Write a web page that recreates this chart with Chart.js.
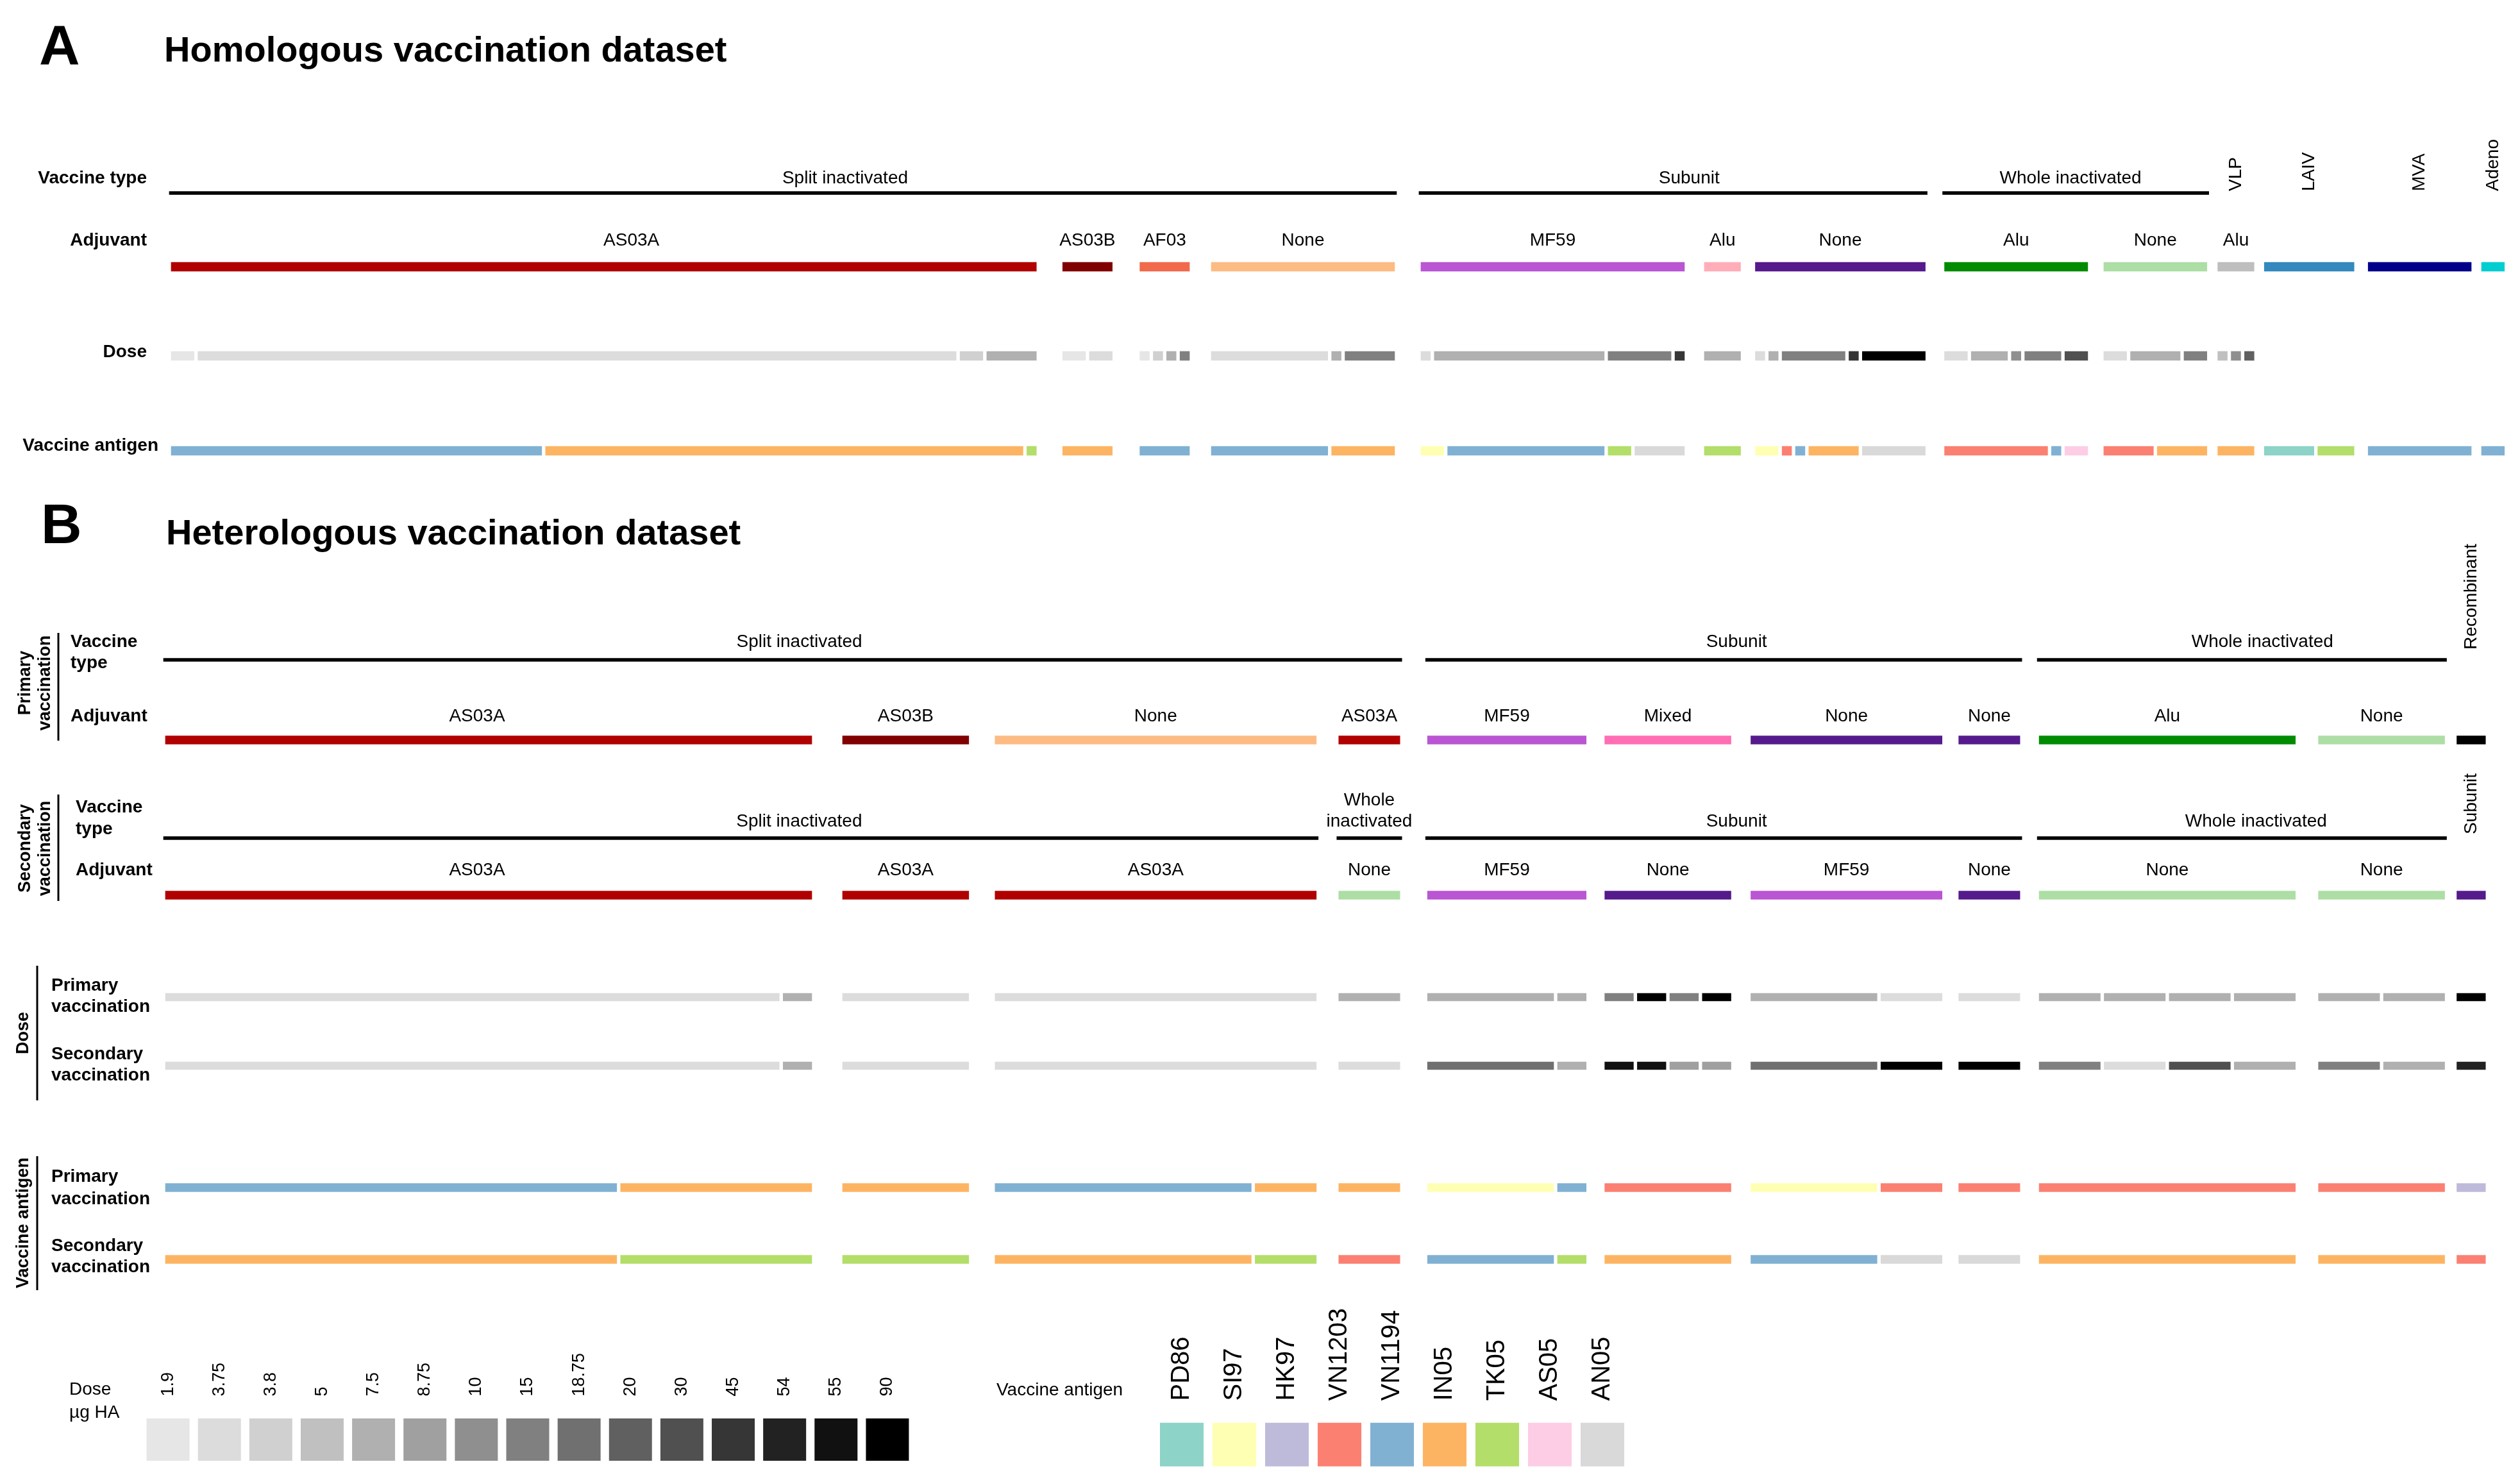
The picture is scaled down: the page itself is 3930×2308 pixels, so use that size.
<!DOCTYPE html>
<html>
<head>
<meta charset="utf-8">
<title>Homologous and heterologous vaccination datasets</title>
<script src="https://cdn.jsdelivr.net/npm/chart.js@4.4.1/dist/chart.umd.min.js"></script>
<style>
  html, body { margin: 0; padding: 0; background: #fff; }
  #wrap { position: relative; width: 3930px; height: 2308px; overflow: hidden; background: #fff; }
  #wrap canvas { position: absolute; }
</style>
</head>
<body>
<div id="wrap">
  <canvas id="main" width="3930" height="2308" style="left:0;top:0;width:3930px;height:2308px"></canvas>
  <canvas id="doseKey" width="1202" height="168" style="left:222px;top:2110px;width:1202px;height:168px"></canvas>
  <canvas id="antigenKey" width="738" height="300" style="left:1802px;top:2040px;width:738px;height:300px"></canvas>
</div>
<script>
(function() {
    'use strict';

    // ---------- Panel A: homologous vaccination dataset ----------
    const typesA = ['Split inactivated', 'Split inactivated', 'Split inactivated', 'Split inactivated',
        'Subunit', 'Subunit', 'Subunit', 'Whole inactivated', 'Whole inactivated', 'VLP', 'LAIV', 'MVA', 'Adeno'];
    const adjuvantsA = ['AS03A', 'AS03B', 'AF03', 'None', 'MF59', 'Alu', 'None', 'Alu', 'None', 'Alu', '', '', ''];
    // columns per adjuvant group
    const sizesA = [65, 4, 4, 14, 20, 3, 13, 11, 8, 3, 7, 8, 2];
    // [dose in µg HA, columns]
    const doseA = [
        [[1.9, 2], [3.75, 57], [3.8, 2], [7.5, 4]],
        [[1.9, 2], [3.75, 2]],
        [[1.9, 1], [3.8, 1], [7.5, 1], [15, 1]],
        [[3.75, 9], [7.5, 1], [15, 4]],
        [[3.75, 1], [7.5, 13], [15, 5], [45, 1]],
        [[7.5, 3]],
        [[3.75, 1], [7.5, 1], [15, 5], [45, 1], [90, 5]],
        [[3.75, 2], [7.5, 3], [10, 1], [15, 3], [30, 2]],
        [[3.75, 2], [7.5, 4], [15, 2]],
        [[5, 1], [10, 1], [20, 1]],
        [], [], []
    ];
    // [antigen, columns]
    const antigenA = [
        [['VN1194', 28], ['IN05', 36], ['TK05', 1]],
        [['IN05', 4]],
        [['VN1194', 4]],
        [['VN1194', 9], ['IN05', 5]],
        [['SI97', 2], ['VN1194', 12], ['TK05', 2], ['AN05', 4]],
        [['TK05', 3]],
        [['SI97', 2], ['VN1203', 1], ['VN1194', 1], ['IN05', 4], ['AN05', 5]],
        [['VN1203', 8], ['VN1194', 1], ['AS05', 2]],
        [['VN1203', 4], ['IN05', 4]],
        [['IN05', 3]],
        [['PD86', 4], ['TK05', 3]],
        [['VN1194', 8]],
        [['VN1194', 2]]
    ];

    // ---------- Panel B: heterologous vaccination dataset ----------
    const sizesB = [20, 4, 10, 2, 5, 4, 6, 2, 8, 4, 1];
    const primTypesB = ['Split inactivated', 'Split inactivated', 'Split inactivated', 'Split inactivated',
        'Subunit', 'Subunit', 'Subunit', 'Subunit', 'Whole inactivated', 'Whole inactivated', 'Recombinant'];
    const primAdjuvantsB = ['AS03A', 'AS03B', 'None', 'AS03A', 'MF59', 'Mixed', 'None', 'None', 'Alu', 'None', ''];
    const secTypesB = ['Split inactivated', 'Split inactivated', 'Split inactivated', 'Whole inactivated',
        'Subunit', 'Subunit', 'Subunit', 'Subunit', 'Whole inactivated', 'Whole inactivated', 'Subunit'];
    const secAdjuvantsB = ['AS03A', 'AS03A', 'AS03A', 'None', 'MF59', 'None', 'MF59', 'None', 'None', 'None', 'None'];
    const primDoseB = [
        [[3.75, 19], [7.5, 1]],
        [[3.75, 4]],
        [[3.75, 10]],
        [[7.5, 2]],
        [[7.5, 4], [7.5, 1]],
        [[15, 1], [90, 1], [15, 1], [90, 1]],
        [[7.5, 4], [3.75, 2]],
        [[3.75, 2]],
        [[7.5, 2], [7.5, 2], [7.5, 2], [7.5, 2]],
        [[7.5, 2], [7.5, 2]],
        [[90, 1]]
    ];
    const secDoseB = [
        [[3.75, 19], [7.5, 1]],
        [[3.75, 4]],
        [[3.75, 10]],
        [[3.75, 2]],
        [[18.75, 4], [7.5, 1]],
        [[55, 1], [55, 1], [8.75, 1], [8.75, 1]],
        [[18.75, 4], [90, 2]],
        [[90, 2]],
        [[15, 2], [3.75, 2], [30, 2], [7.5, 2]],
        [[15, 2], [7.5, 2]],
        [[54, 1]]
    ];
    const primAntigenB = [
        [['VN1194', 14], ['IN05', 6]],
        [['IN05', 4]],
        [['VN1194', 8], ['IN05', 2]],
        [['IN05', 2]],
        [['SI97', 4], ['VN1194', 1]],
        [['VN1203', 4]],
        [['SI97', 4], ['VN1203', 2]],
        [['VN1203', 2]],
        [['VN1203', 8]],
        [['VN1203', 4]],
        [['HK97', 1]]
    ];
    const secAntigenB = [
        [['IN05', 14], ['TK05', 6]],
        [['TK05', 4]],
        [['IN05', 8], ['TK05', 2]],
        [['VN1203', 2]],
        [['VN1194', 4], ['TK05', 1]],
        [['IN05', 4]],
        [['VN1194', 4], ['AN05', 2]],
        [['AN05', 2]],
        [['IN05', 8]],
        [['IN05', 4]],
        [['VN1203', 1]]
    ];

    // ---------- Keys ----------
    const doseLevels = [1.9, 3.75, 3.8, 5, 7.5, 8.75, 10, 15, 18.75, 20, 30, 45, 54, 55, 90];
    const antigenNames = ['PD86', 'SI97', 'HK97', 'VN1203', 'VN1194', 'IN05', 'TK05', 'AS05', 'AN05'];

    // ---------- Styles ----------
    const FONT = "'Liberation Sans', Arial, Helvetica, sans-serif";
    const DOSE_GREYS = ['#e6e6e6', '#dcdcdc', '#d0d0d0', '#c0c0c0', '#b0b0b0', '#a0a0a0', '#8f8f8f',
        '#808080', '#707070', '#606060', '#505050', '#363636', '#222222', '#111111', '#000000'];
    const ANTIGEN_COLOURS = ['#8dd3c7', '#ffffb3', '#bebada', '#fb8072', '#80b1d3', '#fdb462',
        '#b3de69', '#fccde5', '#d9d9d9'];
    const ADJUVANT_COLOURS = {
        'Split inactivated/AS03A': '#b10000',
        'Split inactivated/AS03B': '#800000',
        'Split inactivated/AF03': '#f06a4b',
        'Split inactivated/None': '#fdbb84',
        'Subunit/MF59': '#ba55d3',
        'Subunit/Alu': '#ffaeb9',
        'Subunit/Mixed': '#ff6eb4',
        'Subunit/None': '#551a8b',
        'Whole inactivated/Alu': '#008b00',
        'Whole inactivated/None': '#addea5',
        'VLP/Alu': '#bebebe',
        'LAIV/': '#3388bd',
        'MVA/': '#00008b',
        'Adeno/': '#00ced1',
        'Recombinant/': '#000000'
    };

    // ---------- Layout (pixels) ----------
    const W = 3930, H = 2308;
    const SEG_GAP = 6;          // white gap between neighbouring segments
    const LINE_OVERHANG = 3;    // type rule runs a little past the bars
    const MIN_LABEL_PX = 50;
    const ROTATED_TYPES = ['VLP', 'LAIV', 'MVA', 'Adeno'];
    const PANEL_A = { axis: 'xA', origin: 267, unit: 20.85, gaps: [41, 43, 34, 41, 31, 23, 30, 25, 17, 16, 22, 16] };
    const PANEL_B = { axis: 'xB', origin: 258, unit: 50.7, gaps: [48, 41, 35, 43, 29, 31, 26, 30, 36, 19] };
    const ROWS = {
        aTypeLabel: 278, aTypeLine: 301, aTypeRot: 298, aAdjLabel: 375, aAdj: 416, aDose: 555, aAntigen: 703,
        bPrimTypeLabel: 1001, bPrimTypeLine: 1029, bPrimTypeRot: 1013, bPrimAdjLabel: 1117, bPrimAdj: 1154,
        bSecTypeLabel: 1281, bSecTypeLine: 1307, bSecTypeRot: 1301, bSecAdjLabel: 1357, bSecAdj: 1396,
        bDosePrim: 1555, bDoseSec: 1662, bAgPrim: 1852, bAgSec: 1964
    };
    // horizontal label nudges, px
    const TYPE_NUDGE_A = [97, 25, -8];
    const TYPE_NUDGE_B_PRIM = [26, 20, 32];
    const TYPE_NUDGE_B_SEC = [91, 0, 20, 22];
    const ADJ_NUDGE_A = [43];
    const ADJ_NUDGE_B = [-18];

    /**
     * Lay out adjuvant groups along the sample axis (in columns)
     */
    function placeGroups(sizes, panel) {
        const gap = SEG_GAP / panel.unit;
        const out = [];
        let pos = 0;
        sizes.forEach((n, i) => {
            out.push({ start: pos, end: pos + n - gap });
            pos += n - gap + (i < panel.gaps.length ? panel.gaps[i] / panel.unit : 0);
        });
        return out;
    }

    /**
     * Merge neighbouring groups of the same vaccine type
     */
    function typeRuns(types, groups) {
        const runs = [];
        types.forEach((t, i) => {
            const last = runs[runs.length - 1];
            if (last && last.type === t) {
                last.end = groups[i].end;
            } else {
                runs.push({ type: t, start: groups[i].start, end: groups[i].end });
            }
        });
        return runs;
    }

    function isRotated(run, panel) {
        return ROTATED_TYPES.includes(run.type) || (run.end - run.start) * panel.unit < 60;
    }

    function doseColour(v) {
        return DOSE_GREYS[doseLevels.indexOf(v)];
    }

    function antigenColour(name) {
        return ANTIGEN_COLOURS[antigenNames.indexOf(name)];
    }

    function segmentBars(groups, lists, rowY, colourOf, panel) {
        const gap = SEG_GAP / panel.unit;
        const data = [];
        const colours = [];
        lists.forEach((list, g) => {
            let pos = groups[g].start;
            list.forEach(([key, n]) => {
                data.push({ x: [pos, pos + n - gap], y: rowY });
                colours.push(colourOf(key));
                pos += n;
            });
        });
        return { data, colours };
    }

    function adjuvantBars(groups, types, adjs, rowY) {
        return {
            data: groups.map(g => ({ x: [g.start, g.end], y: rowY })),
            colours: groups.map((g, i) => ADJUVANT_COLOURS[types[i] + '/' + adjs[i]])
        };
    }

    function lineBars(runs, panel, rowY) {
        const ext = LINE_OVERHANG / panel.unit;
        const flat = runs.filter(r => !isRotated(r, panel));
        return {
            data: flat.map(r => ({ x: [r.start - ext, r.end + ext], y: rowY })),
            colours: flat.map(() => '#000000')
        };
    }

    function barSet(panel, bars, thickness) {
        return {
            xAxisID: panel.axis,
            yAxisID: 'y',
            data: bars.data,
            backgroundColor: bars.colours,
            barThickness: thickness,
            grouped: false,
            borderWidth: 0
        };
    }

    const groupsA = placeGroups(sizesA, PANEL_A);
    const groupsB = placeGroups(sizesB, PANEL_B);
    const runsA = typeRuns(typesA, groupsA);
    const runsPrimB = typeRuns(primTypesB, groupsB);
    const runsSecB = typeRuns(secTypesB, groupsB);

    const datasets = [
        barSet(PANEL_A, lineBars(runsA, PANEL_A, ROWS.aTypeLine), 5),
        barSet(PANEL_A, adjuvantBars(groupsA, typesA, adjuvantsA, ROWS.aAdj), 14),
        barSet(PANEL_A, segmentBars(groupsA, doseA, ROWS.aDose, doseColour, PANEL_A), 14),
        barSet(PANEL_A, segmentBars(groupsA, antigenA, ROWS.aAntigen, antigenColour, PANEL_A), 14),
        barSet(PANEL_B, lineBars(runsPrimB, PANEL_B, ROWS.bPrimTypeLine), 5),
        barSet(PANEL_B, lineBars(runsSecB, PANEL_B, ROWS.bSecTypeLine), 5),
        barSet(PANEL_B, adjuvantBars(groupsB, primTypesB, primAdjuvantsB, ROWS.bPrimAdj), 13),
        barSet(PANEL_B, adjuvantBars(groupsB, secTypesB, secAdjuvantsB, ROWS.bSecAdj), 13),
        barSet(PANEL_B, segmentBars(groupsB, primDoseB, ROWS.bDosePrim, doseColour, PANEL_B), 12),
        barSet(PANEL_B, segmentBars(groupsB, secDoseB, ROWS.bDoseSec, doseColour, PANEL_B), 12),
        barSet(PANEL_B, segmentBars(groupsB, primAntigenB, ROWS.bAgPrim, antigenColour, PANEL_B), 13),
        barSet(PANEL_B, segmentBars(groupsB, secAntigenB, ROWS.bAgSec, antigenColour, PANEL_B), 13)
    ];

    // ---------- Text helpers ----------
    function fontOf(size, bold) {
        return (bold ? 'bold ' : '') + size + 'px ' + FONT;
    }

    function put(ctx, str, x, y, o) {
        o = o || {};
        ctx.save();
        ctx.font = fontOf(o.size || 28, o.bold);
        ctx.fillStyle = '#000';
        ctx.textAlign = o.align || 'center';
        ctx.textBaseline = o.baseline || 'middle';
        ctx.fillText(str, x, y);
        ctx.restore();
    }

    function putRotated(ctx, str, x, y, o) {
        o = o || {};
        ctx.save();
        ctx.translate(x, y);
        ctx.rotate(-Math.PI / 2);
        ctx.font = fontOf(o.size || 28, o.bold);
        ctx.fillStyle = '#000';
        ctx.textAlign = o.align || 'center';
        ctx.textBaseline = 'middle';
        ctx.fillText(str, 0, 0);
        ctx.restore();
    }

    function drawAdjuvantLabels(ctx, chart, panel, groups, adjs, y, nudges) {
        const sc = chart.scales[panel.axis];
        groups.forEach((g, i) => {
            if (!adjs[i]) return;
            const x0 = sc.getPixelForValue(g.start);
            const x1 = sc.getPixelForValue(g.end);
            if (x1 - x0 < MIN_LABEL_PX) return;
            put(ctx, adjs[i], (x0 + x1) / 2 + (nudges[i] || 0), y);
        });
    }

    function drawTypeLabels(ctx, chart, panel, runs, labelY, rotY, nudges) {
        const sc = chart.scales[panel.axis];
        let k = 0;
        runs.forEach(r => {
            const x0 = sc.getPixelForValue(r.start);
            const x1 = sc.getPixelForValue(r.end);
            const cx = (x0 + x1) / 2;
            if (isRotated(r, panel)) {
                putRotated(ctx, r.type, cx, rotY, { align: 'left' });
                return;
            }
            const x = cx + (nudges[k++] || 0);
            ctx.font = fontOf(28);
            if (ctx.measureText(r.type).width > x1 - x0) {
                const words = r.type.split(' ');
                words.forEach((w, j) => put(ctx, w, x, labelY - (words.length - 1 - j) * 33));
            } else {
                put(ctx, r.type, x, labelY);
            }
        });
    }

    function rule(ctx, x, y0, y1) {
        ctx.save();
        ctx.fillStyle = '#000';
        ctx.fillRect(x - 1.5, y0, 3, y1 - y0);
        ctx.restore();
    }

    const panelText = {
        id: 'panelText',
        afterDraw(chart) {
            const ctx = chart.ctx;

            // Headings
            put(ctx, 'A', 61, 100, { size: 88, bold: true, align: 'left', baseline: 'alphabetic' });
            put(ctx, 'Homologous vaccination dataset', 256, 96, { size: 56, bold: true, align: 'left', baseline: 'alphabetic' });
            put(ctx, 'B', 64, 847, { size: 88, bold: true, align: 'left', baseline: 'alphabetic' });
            put(ctx, 'Heterologous vaccination dataset', 259, 849, { size: 56, bold: true, align: 'left', baseline: 'alphabetic' });

            // Panel A row names
            put(ctx, 'Vaccine type', 229, ROWS.aTypeLabel, { bold: true, align: 'right' });
            put(ctx, 'Adjuvant', 229, ROWS.aAdjLabel, { bold: true, align: 'right' });
            put(ctx, 'Dose', 229, 549, { bold: true, align: 'right' });
            put(ctx, 'Vaccine antigen', 247, 695, { bold: true, align: 'right' });

            drawTypeLabels(ctx, chart, PANEL_A, runsA, ROWS.aTypeLabel, ROWS.aTypeRot, TYPE_NUDGE_A);
            drawAdjuvantLabels(ctx, chart, PANEL_A, groupsA, adjuvantsA, ROWS.aAdjLabel, ADJ_NUDGE_A);

            // Panel B section names
            rule(ctx, 91, 987, 1155);
            putRotated(ctx, 'Primary', 40, 1065, { size: 27, bold: true });
            putRotated(ctx, 'vaccination', 71, 1065, { size: 27, bold: true });
            put(ctx, 'Vaccine', 110, 1001, { bold: true, align: 'left' });
            put(ctx, 'type', 110, 1034, { bold: true, align: 'left' });
            put(ctx, 'Adjuvant', 110, 1117, { bold: true, align: 'left' });

            rule(ctx, 91, 1239, 1405);
            putRotated(ctx, 'Secondary', 40, 1323, { size: 27, bold: true });
            putRotated(ctx, 'vaccination', 71, 1323, { size: 27, bold: true });
            put(ctx, 'Vaccine', 118, 1259, { bold: true, align: 'left' });
            put(ctx, 'type', 118, 1293, { bold: true, align: 'left' });
            put(ctx, 'Adjuvant', 118, 1357, { bold: true, align: 'left' });

            rule(ctx, 58, 1506, 1716);
            putRotated(ctx, 'Dose', 37, 1611, { size: 27, bold: true });
            put(ctx, 'Primary', 80, 1537, { bold: true, align: 'left' });
            put(ctx, 'vaccination', 80, 1570, { bold: true, align: 'left' });
            put(ctx, 'Secondary', 80, 1644, { bold: true, align: 'left' });
            put(ctx, 'vaccination', 80, 1677, { bold: true, align: 'left' });

            rule(ctx, 58, 1803, 2012);
            putRotated(ctx, 'Vaccine antigen', 37, 1907, { size: 27, bold: true });
            put(ctx, 'Primary', 80, 1835, { bold: true, align: 'left' });
            put(ctx, 'vaccination', 80, 1870, { bold: true, align: 'left' });
            put(ctx, 'Secondary', 80, 1943, { bold: true, align: 'left' });
            put(ctx, 'vaccination', 80, 1976, { bold: true, align: 'left' });

            drawTypeLabels(ctx, chart, PANEL_B, runsPrimB, ROWS.bPrimTypeLabel, ROWS.bPrimTypeRot, TYPE_NUDGE_B_PRIM);
            drawAdjuvantLabels(ctx, chart, PANEL_B, groupsB, primAdjuvantsB, ROWS.bPrimAdjLabel, ADJ_NUDGE_B);
            drawTypeLabels(ctx, chart, PANEL_B, runsSecB, ROWS.bSecTypeLabel, ROWS.bSecTypeRot, TYPE_NUDGE_B_SEC);
            drawAdjuvantLabels(ctx, chart, PANEL_B, groupsB, secAdjuvantsB, ROWS.bSecAdjLabel, ADJ_NUDGE_B);

            // Key titles
            put(ctx, 'Dose', 108, 2167, { align: 'left' });
            put(ctx, 'µg HA', 108, 2203, { align: 'left' });
            put(ctx, 'Vaccine antigen', 1554, 2168, { align: 'left' });
        }
    };

    const noChrome = {
        responsive: false,
        devicePixelRatio: 1,
        animation: false,
        events: [],
        layout: { padding: 0 },
        plugins: { legend: { display: false }, tooltip: { enabled: false } }
    };

    new Chart(document.getElementById('main'), {
        type: 'bar',
        data: { datasets: datasets },
        options: Object.assign({}, noChrome, {
            indexAxis: 'y',
            scales: {
                xA: { axis: 'x', type: 'linear', display: false, stacked: false, offset: false,
                    min: -PANEL_A.origin / PANEL_A.unit, max: (W - PANEL_A.origin) / PANEL_A.unit },
                xB: { axis: 'x', type: 'linear', display: false, stacked: false, offset: false,
                    min: -PANEL_B.origin / PANEL_B.unit, max: (W - PANEL_B.origin) / PANEL_B.unit },
                y: { type: 'linear', display: false, reverse: true, offset: false, min: 0, max: H }
            }
        }),
        plugins: [panelText]
    });

    /**
     * Colour key: one swatch per level, level names as rotated ticks on top
     */
    function keyChart(id, labels, colours, fontSize, barPct, yMin, yMax) {
        return new Chart(document.getElementById(id), {
            type: 'bar',
            data: {
                labels: labels,
                datasets: [{
                    data: labels.map(() => 1),
                    backgroundColor: colours,
                    barPercentage: barPct,
                    categoryPercentage: 1,
                    borderWidth: 0
                }]
            },
            options: Object.assign({}, noChrome, {
                scales: {
                    x: {
                        position: 'top',
                        grid: { display: false, drawTicks: false },
                        border: { display: false },
                        ticks: {
                            minRotation: 90,
                            maxRotation: 90,
                            autoSkip: false,
                            padding: 0,
                            labelOffset: fontSize,
                            color: '#000',
                            font: { family: FONT, size: fontSize, lineHeight: 1 }
                        }
                    },
                    y: { display: false, min: yMin, max: yMax }
                }
            })
        });
    }

    keyChart('doseKey', doseLevels.map(String), DOSE_GREYS, 27, 0.836, 0, 1.52);
    keyChart('antigenKey', antigenNames, ANTIGEN_COLOURS, 40, 0.83, -0.78, 1.5);
})();
</script>
</body>
</html>
